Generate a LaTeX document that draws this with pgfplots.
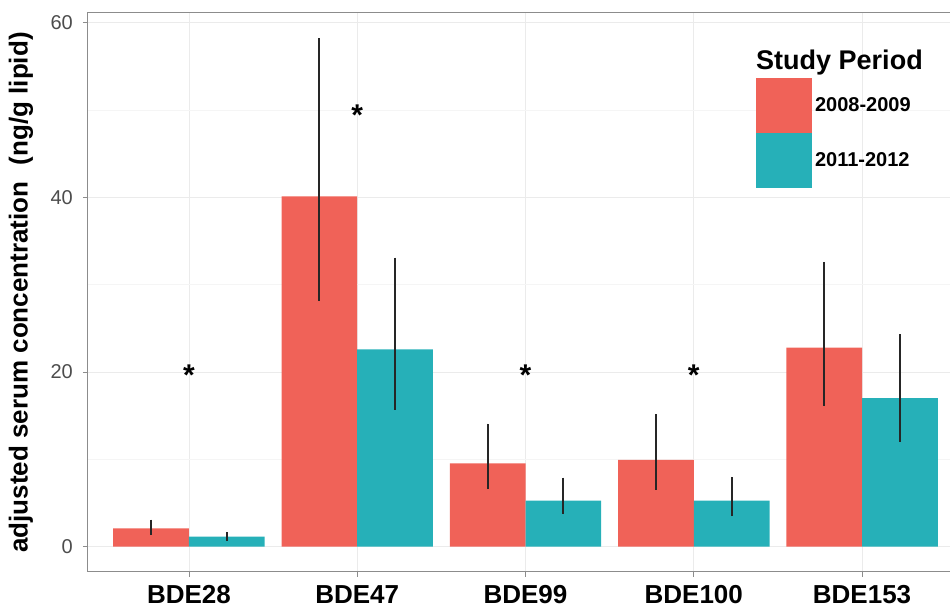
\documentclass[border=0pt]{standalone}
\usepackage{pgfplots}
\pgfplotsset{compat=1.18}
\usepackage{fontspec}
\setmainfont{Liberation Sans}
\definecolor{redc}{RGB}{240,98,88}
\definecolor{tealc}{RGB}{38,176,184}
\definecolor{axgray}{RGB}{140,140,140}
\begin{document}
\begin{tikzpicture}
\begin{axis}[
  name=ax,
  scale only axis,
  width=875pt, height=559pt,
  xmin=0.4, xmax=5.6,
  ymin=-2.9, ymax=61.1,
  xtick={1,2,3,4,5},
  xticklabels={BDE28,BDE47,BDE99,BDE100,BDE153},
  ytick={0,20,40,60},
  minor ytick={10,30,50},
  grid=both,
  major grid style={line width=0.8pt, black!8},
  minor grid style={line width=0.8pt, black!4},
  tick align=outside,
  major tick length=5pt,
  minor tick length=0pt,
  xtick pos=bottom, ytick pos=left,
  tick style={axgray, line width=0.8pt},
  axis line style={axgray, line width=1pt},
  /pgf/number format/assume math mode=true,
  yticklabel style={font=\fontsize{20}{20}\selectfont, text=black!70, inner sep=0pt, xshift=-10pt},
  xticklabel style={font=\bfseries\fontsize{26}{26}\selectfont, text=black, inner sep=0pt, yshift=-8pt},
  ylabel={adjusted serum concentration\hspace{0.35em} (ng/g lipid)},
  every axis y label/.style={at={(axis description cs:0,0.5)}, xshift=-67pt, rotate=90, anchor=center, font=\bfseries\fontsize{26}{26}\selectfont},
  legend style={at={(axis cs:4.37,53.7)}, anchor=north west, draw=none, fill=none,
    inner sep=0pt, outer sep=0pt, row sep=0pt, column sep=0pt,
    font=\bfseries\fontsize{20}{20}\selectfont,
    cells={anchor=west}, nodes={inner xsep=3pt, inner ysep=0pt}},
  legend image code/.code={\fill[#1] (0pt,-27.5pt) rectangle (56pt,27.5pt);},
]
\addplot[ybar, bar width=0.45, bar shift=0pt, fill=redc, draw=none,
  error bars/.cd, y dir=both, y explicit, error mark=none,
  error bar style={line width=2pt, black!85}]
  coordinates {
  (0.775,2.1)   += (0,1.0)  -= (0,0.76)
  (1.775,40.1)  += (0,18.1) -= (0,12.0)
  (2.775,9.55)  += (0,4.55) -= (0,2.95)
  (3.775,9.93)  += (0,5.23) -= (0,3.43)
  (4.775,22.8)  += (0,9.8)  -= (0,6.7)
  };
\addlegendentry{2008-2009}
\addplot[ybar, bar width=0.45, bar shift=0pt, fill=tealc, draw=none,
  error bars/.cd, y dir=both, y explicit, error mark=none,
  error bar style={line width=2pt, black!85}]
  coordinates {
  (1.225,1.15)  += (0,0.55) -= (0,0.45)
  (2.225,22.6)  += (0,10.5) -= (0,6.9)
  (3.225,5.27)  += (0,2.63) -= (0,1.53)
  (4.225,5.27)  += (0,2.73) -= (0,1.77)
  (5.225,17.0)  += (0,7.3)  -= (0,5.0)
  };
\addlegendentry{2011-2012}
\addplot[forget plot, only marks, mark=text, text mark={\bfseries *}, text mark as node=true,
  text mark style={font=\fontsize{30}{30}\selectfont, yshift=-3pt, inner sep=0pt}]
  coordinates {(1,20) (2,49.7) (3,20) (4,20)};
\node[anchor=base west, inner sep=0pt, font=\bfseries\fontsize{27}{27}\selectfont] at (axis cs:4.37,54.6) {Study Period};
\end{axis}
\pgfresetboundingbox
\path[use as bounding box] ([xshift=-88pt,yshift=-36pt]ax.south west) rectangle ([xshift=-13pt,yshift=13pt]ax.north east);
\end{tikzpicture}
\end{document}
